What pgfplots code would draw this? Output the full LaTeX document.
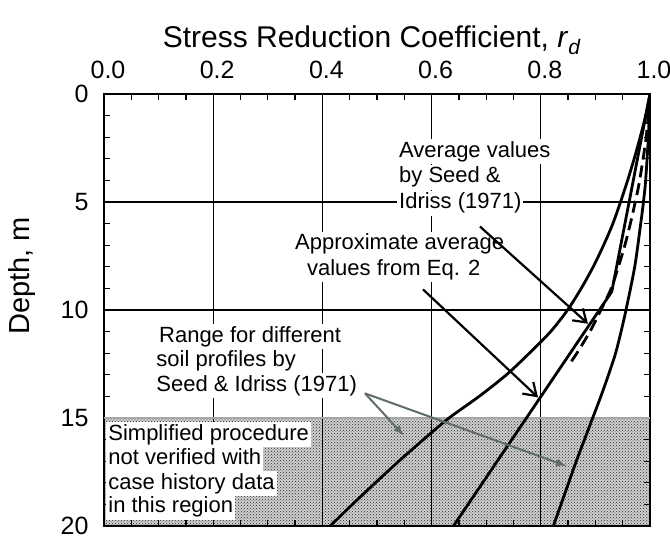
\documentclass[border=0pt]{standalone}
\usepackage{fontspec}
\setmainfont{Liberation Sans}
\usepackage{pgfplots}
\pgfplotsset{compat=1.18}
\usetikzlibrary{arrows.meta,patterns}
\definecolor{arrgray}{RGB}{95,110,100}
\newcommand{\ann}{\fontsize{22}{25}\selectfont}
\begin{document}
\begin{tikzpicture}
\begin{axis}[
  at={(0,0)}, anchor=south west,
  scale only axis, width=546pt, height=432pt,
  xmin=0, xmax=1, ymin=0, ymax=20, y dir=reverse,
  xtick={0,0.2,0.4,0.6,0.8,1}, xticklabels={0.0,0.2,0.4,0.6,0.8,1.0},
  ytick={0,5,10,15,20},
  minor x tick num=3, minor y tick num=4,
  tick pos=both,
  xticklabel pos=upper, yticklabel pos=lower,
  tick align=inside,
  major tick length=9pt, minor tick length=6pt,
  grid=major,
  major grid style={black, line width=1.3pt},
  every tick/.style={black, line width=1.3pt},
  axis line style={line width=2pt},
  ticklabel style={font=\fontsize{25}{25}\selectfont},
  xticklabel style={yshift=12pt, xshift=4pt},
  yticklabel style={xshift=-12pt},
  /pgf/number format/assume math mode=true,
  set layers,
]
% shaded region (no verification)
\addplot[draw=none, fill=gray!38, on layer=axis background] coordinates {(0,15) (1,15) (1,20) (0,20) (0,15)};
\addplot[draw=none, pattern=crosshatch dots, pattern color=black!85, on layer=axis background] coordinates {(0,15) (1,15) (1,20) (0,20) (0,15)};
\draw[gray!70, line width=2pt] (axis cs:0,15) -- (axis cs:1,15);

% range lower bound (Seed & Idriss 1971)
\addplot[line width=2.8pt, smooth, tension=0.5] coordinates {
(1,0) (0.992,1) (0.982,2) (0.971,3) (0.959,4) (0.946,5) (0.932,6) (0.915,7)
(0.896,8) (0.874,9) (0.849,10) (0.818,11) (0.779,12) (0.737,13) (0.687,14)
(0.632,15) (0.585,16) (0.540,17) (0.497,18) (0.455,19) (0.414,20)};
% range upper bound
\addplot[line width=2.8pt, smooth, tension=0.5] coordinates {
(1,0) (0.997,2) (0.992,4) (0.988,5) (0.983,6) (0.972,8) (0.956,10) (0.947,11)
(0.937,12) (0.924,13) (0.910,14) (0.895,15) (0.880,16) (0.865,17) (0.851,18)
(0.837,19) (0.823,20)};
% average values by Seed & Idriss (1971)
\addplot[line width=2.8pt, dash pattern=on 12pt off 6pt, smooth, tension=0.5] coordinates {
(1,0) (0.993,2) (0.981,4) (0.973,5) (0.964,6) (0.954,7) (0.942,8) (0.929,9)
(0.910,10) (0.890,11) (0.866,12) (0.850,12.6)};
% approximate average from Eq. 2
\addplot[line width=2.8pt] coordinates {(1,0) (0.930,9.15) (0.640,20)};

% annotations
\node[anchor=west, fill=white, inner sep=2pt, text height=16pt, text depth=5pt, font=\ann] at (axis cs:0.5366,2.68) {Average values};
\node[anchor=west, fill=white, inner sep=2pt, text height=16pt, text depth=5pt, font=\ann] at (axis cs:0.5366,3.86) {by Seed \&};
\node[anchor=west, fill=white, inner sep=2pt, text height=16pt, text depth=5pt, font=\ann] at (axis cs:0.5366,5.05) {Idriss (1971)};
\node[anchor=west, fill=white, inner sep=2pt, text height=16pt, text depth=5pt, font=\ann] at (axis cs:0.346,6.95) {Approximate average};
\node[anchor=west, fill=white, inner sep=2pt, text height=16pt, text depth=5pt, font=\ann] at (axis cs:0.368,8.14) {values from Eq. 2};
\node[anchor=west, fill=white, inner sep=2pt, text height=16pt, text depth=5pt, font=\ann] at (axis cs:0.097,11.23) {Range for different};
\node[anchor=west, fill=white, inner sep=2pt, text height=16pt, text depth=5pt, font=\ann] at (axis cs:0.092,12.36) {soil profiles by};
\node[anchor=west, fill=white, inner sep=2pt, text height=16pt, text depth=5pt, font=\ann] at (axis cs:0.092,13.5) {Seed \& Idriss (1971)};
\node[anchor=west, fill=white, inner sep=2pt, text height=16pt, text depth=5pt, font=\ann] at (axis cs:0.004,15.77) {Simplified procedure};
\node[anchor=west, fill=white, inner sep=2pt, text height=16pt, text depth=5pt, font=\ann] at (axis cs:0.004,16.9) {not verified with};
\node[anchor=west, fill=white, inner sep=2pt, text height=16pt, text depth=5pt, font=\ann] at (axis cs:0.004,18.05) {case history data};
\node[anchor=west, fill=white, inner sep=2pt, text height=16pt, text depth=5pt, font=\ann] at (axis cs:0.004,19.14) {in this region};

\draw[line width=2.2pt, -{Straight Barb[length=12pt,width=16pt,line width=2.2pt]}] (axis cs:0.6886,6.136) -- (axis cs:0.8864,10.636);
\draw[line width=2.2pt, -{Straight Barb[length=12pt,width=16pt,line width=2.2pt]}] (axis cs:0.5842,9.045) -- (axis cs:0.7949,14.045);
\draw[arrgray, line width=2pt, -{Latex[length=11pt,width=8pt]}] (axis cs:0.478,13.86) -- (axis cs:0.5495,15.82);
\draw[arrgray, line width=2pt, -{Latex[length=11pt,width=8pt]}] (axis cs:0.478,13.86) -- (axis cs:0.848,17.23);
\end{axis}
\node[anchor=base, font=\fontsize{30}{30}\selectfont] at (268pt,478pt) {Stress Reduction Coefficient,\ \textit{r}\textsubscript{\textit{d}}};
\node[rotate=90, font=\fontsize{29}{29}\selectfont] at (-82pt,250pt) {Depth, m};
\pgfresetboundingbox
\path[use as bounding box] (-104pt,-14pt) rectangle (566pt,526pt);
\end{tikzpicture}
\end{document}
